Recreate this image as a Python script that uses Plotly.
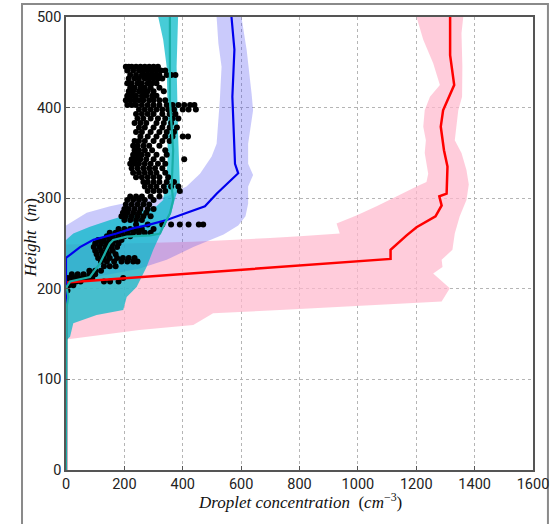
import plotly.graph_objects as go

# ---------------- data ----------------
# mean profiles: concentration (x) vs height (y)
red_x = [1316, 1316, 1330, 1292, 1284, 1295, 1307, 1304, 1279, 1287, 1266, 1201, 1167, 1138, 1112, 1112, 0, 0]
red_y = [500, 458, 425, 397, 379, 353, 335, 305, 302, 292, 280, 268, 259, 250, 243, 233, 207, 0]

blue_x = [567, 577, 570, 579, 590, 550, 516, 476, 413, 345, 276, 231, 173, 94, 48, 0, 0]
blue_y = [500, 464, 412, 338, 327.5, 315, 305, 291, 284, 276, 270, 267, 261, 254, 246, 234, 0]

cyan_x = [356, 356, 367, 362, 367, 356, 333, 322, 288, 208, 162, 150, 139, 116, 82, 14, 2, 8, 2, 0]
cyan_y = [500, 408, 353, 313, 298, 283, 268.6, 261, 259, 257.6, 254, 250, 243, 228, 213, 208, 202, 191, 180, 0]

# spread envelopes (closed outlines)
pink_band_x = [1201, 1224, 1258, 1281, 1247, 1229, 1224, 1233, 1229, 1241, 1235, 1201, 1132, 1064, 995, 927,
               938, 801, 699, 436, 200, 0, 0, 20, 251, 436, 504, 733, 1287, 1315, 1258, 1290, 1287, 1324,
               1327, 1332, 1349, 1372, 1380, 1372, 1355, 1332, 1344, 1357, 1358, 1355, 1361]
pink_band_y = [500, 475, 449, 425, 412, 397, 379, 364, 350, 327, 318, 313, 302, 291, 281, 272,
               261, 258, 256, 252, 250, 249, 144, 145, 154.5, 160, 173, 176.5, 186, 200.5, 217, 224, 232, 243,
               250, 261, 280, 298, 315, 331, 350, 364, 397, 412, 445, 482, 500]

blue_band_x = [516, 522, 533, 527, 516, 499, 459, 413, 345, 253, 151, 71, 0, 0, 100, 250, 345, 436, 540,
               590, 615, 624, 624, 641, 624, 624, 641, 636, 619, 601]
blue_band_y = [500, 471, 445, 408, 360, 346, 327, 313, 302, 298, 291, 284, 270, 203, 213, 222, 232, 246, 260,
               270, 280, 294, 313, 325.6, 338, 360, 397, 415, 463.6, 500]

cyan_band_x = [316, 333, 345, 348, 348, 333, 310, 151, 82, 25, 0, 0, 14, 25, 105, 196, 208, 242, 259, 276,
               299, 330, 360, 372, 390, 384, 379, 384]
cyan_band_y = [500, 475, 445, 400, 340, 298, 291, 276, 268.6, 261, 254, 143, 147, 162, 171, 176.6, 191, 202,
               213, 224, 243, 265, 283, 298, 316, 371, 445, 500]

# observations: rows of (height, [concentrations])
obs_rows = [
    (445, [205, 215, 225, 240, 255, 270, 285, 300, 315]),
    (441, [210, 230, 250, 265, 280, 295, 310, 325, 340]),
    (436, [220, 240, 260, 275, 290, 305, 320, 345, 360, 375]),
    (432, [215, 235, 250, 270, 285, 300, 315, 330]),
    (427, [210, 225, 245, 260, 280, 295, 310]),
    (422, [220, 235, 255, 270, 290, 320]),
    (418, [215, 230, 250, 265, 280, 300, 335]),
    (413, [210, 225, 240, 260, 275, 295, 310]),
    (408, [205, 220, 235, 250, 265, 285, 300, 320, 340]),
    (403, [210, 225, 240, 260, 280, 300, 320, 345, 365, 385, 405, 425, 440]),
    (398, [250, 270, 290, 310, 330, 350, 370, 400, 420, 445]),
    (393, [240, 260, 280, 300, 330, 355, 375]),
    (388, [245, 265, 290, 315, 340, 365, 385]),
    (383, [235, 255, 275, 310, 335, 360]),
    (378, [250, 270, 300, 330, 355, 380]),
    (373, [240, 260, 290, 320, 345, 370]),
    (368, [255, 280, 310, 340, 365, 400, 418]),
    (363, [235, 250, 270, 300, 330, 355]),
    (358, [230, 245, 265, 285, 320]),
    (353, [235, 250, 270, 295, 340]),
    (348, [230, 245, 260, 280, 310, 345]),
    (343, [225, 240, 255, 275, 300, 330, 405]),
    (338, [220, 235, 250, 270, 290, 315, 340]),
    (333, [225, 245, 265, 285, 305, 330]),
    (328, [230, 250, 270, 290, 310, 340]),
    (323, [240, 260, 280, 300, 320, 350]),
    (318, [265, 280, 300, 320, 345, 370]),
    (313, [270, 290, 310, 335, 360, 385]),
    (308, [280, 300, 320, 340, 390]),
    (302, [220, 240, 260, 290, 320]),
    (298, [210, 230, 250, 270, 300]),
    (293, [205, 225, 245, 265, 285]),
    (288, [200, 215, 235, 255, 280, 300]),
    (284, [195, 210, 230, 250, 275]),
    (280, [190, 205, 225, 245, 265, 290]),
    (276, [200, 220, 240, 260]),
    (271, [240, 280, 330, 360, 390, 420, 455, 470]),
    (266, [180, 200, 220, 240, 260, 300]),
    (262, [150, 170, 190, 210, 230, 250, 270, 290]),
    (258, [140, 160, 180, 200, 220]),
    (254, [110, 130, 150, 170, 190]),
    (250, [100, 120, 140, 160, 180]),
    (246, [95, 115, 135, 155, 175]),
    (242, [100, 120, 140, 160]),
    (238, [105, 125, 145, 170]),
    (234, [110, 130, 150, 175, 195, 215, 235]),
    (230, [120, 140, 165, 190, 210, 230, 245]),
    (225, [130, 150, 170]),
    (220, [80, 100, 120]),
    (216, [20, 40, 60, 80, 100]),
    (212, [5, 15, 30, 45, 60, 75, 90, 196]),
    (208, [5, 20, 35, 50, 130, 151, 180]),
    (204, [0, 10, 25]),
    (198, [5]),
]
obs_x = [x for h, xs in obs_rows for x in xs]
obs_y = [h for h, xs in obs_rows for x in xs]

x_ticks = [0, 200, 400, 600, 800, 1000, 1200, 1400, 1600]
y_ticks = [0, 100, 200, 300, 400, 500]

x_title = "<i>Droplet concentration</i>\u00a0\u00a0(<i>cm</i><sup>\u22123</sup>)"
y_title = "<i>Height</i>\u00a0\u00a0(<i>m</i>)"

# ---------------- figure ----------------
fig = go.Figure()

fig.add_trace(go.Scatter(x=pink_band_x, y=pink_band_y, fill="toself", mode="none",
                         fillcolor="rgba(255,185,205,0.72)", hoverinfo="skip", showlegend=False))
fig.add_trace(go.Scatter(x=blue_band_x, y=blue_band_y, fill="toself", mode="none",
                         fillcolor="rgba(60,60,240,0.27)", hoverinfo="skip", showlegend=False))
fig.add_trace(go.Scatter(x=cyan_band_x, y=cyan_band_y, fill="toself", mode="none",
                         fillcolor="rgba(0,185,200,0.72)", hoverinfo="skip", showlegend=False))

fig.add_trace(go.Scatter(x=obs_x, y=obs_y, mode="markers",
                         marker=dict(color="black", size=6, line=dict(width=0)), showlegend=False))

fig.add_trace(go.Scatter(x=red_x, y=red_y, mode="lines", line=dict(color="#ff0000", width=2.5), showlegend=False))
fig.add_trace(go.Scatter(x=blue_x, y=blue_y, mode="lines", line=dict(color="#0000ee", width=2.2), showlegend=False))
fig.add_trace(go.Scatter(x=cyan_x, y=cyan_y, mode="lines", line=dict(color="#1aaea8", width=2.2), showlegend=False))

tick_font = dict(family="Liberation Sans Narrow, Roboto, Liberation Sans, sans-serif", size=14.5, color="#222")
title_font = dict(family="Liberation Serif, DejaVu Serif, serif", size=17, color="#111")

fig.update_xaxes(range=[0, 1600], tickvals=x_ticks, ticktext=[str(v) for v in x_ticks],
                 showgrid=True, gridcolor="#b5b5b5", griddash="dot", gridwidth=1,
                 showline=True, linecolor="#555555", linewidth=1.5, mirror=True,
                 ticks="inside", ticklen=4, tickcolor="#555555", zeroline=False,
                 tickfont=tick_font, automargin=False)
fig.update_yaxes(range=[0, 500], tickvals=y_ticks, ticktext=[str(v) for v in y_ticks],
                 showgrid=True, gridcolor="#b5b5b5", griddash="dot", gridwidth=1,
                 showline=True, linecolor="#555555", linewidth=1.5, mirror=True,
                 ticks="inside", ticklen=4, tickcolor="#555555", zeroline=False,
                 tickfont=tick_font, automargin=False)

fig.update_layout(
    width=556, height=524,
    margin=dict(l=66, r=23, t=17, b=54, autoexpand=False),
    paper_bgcolor="white", plot_bgcolor="white",
    shapes=[dict(type="rect", xref="paper", yref="paper",
                 x0=-0.0942, x1=1.032, y0=-0.14, y1=1.0287,
                 line=dict(color="#8a8a8a", width=2), fillcolor="rgba(0,0,0,0)", layer="below")],
    annotations=[
        dict(text=x_title, xref="paper", yref="paper", x=0.501, y=-0.068,
             xanchor="center", yanchor="middle", showarrow=False, font=title_font),
        dict(text=y_title, xref="paper", yref="paper", x=-0.076, y=0.512, textangle=-90,
             xanchor="center", yanchor="middle", showarrow=False, font=title_font),
    ],
)

fig.write_html("out.html", config={"displayModeBar": False},
               post_script="document.body.style.margin='0';document.body.style.overflow='hidden';")
